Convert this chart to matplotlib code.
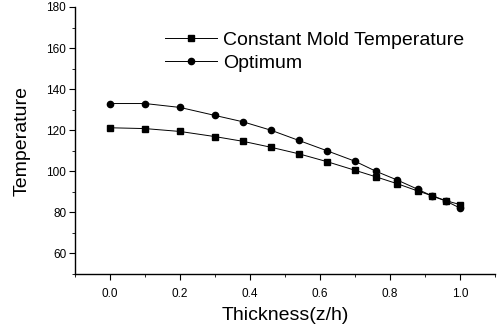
import matplotlib
matplotlib.use("Agg")
import matplotlib.pyplot as plt
from matplotlib.ticker import MultipleLocator

plt.rcParams['font.family'] = ['Liberation Sans', 'DejaVu Sans']

thickness = [0.0, 0.1, 0.2, 0.3, 0.38, 0.46, 0.54, 0.62, 0.70, 0.76, 0.82, 0.88, 0.92, 0.96, 1.0]
constant_mold = [121.2, 120.8, 119.4, 116.9, 114.6, 111.7, 108.5, 104.7, 100.5, 97.3, 94.0, 90.4, 88.1, 85.7, 83.8]
optimum = [133.0, 133.0, 131.1, 127.2, 124.1, 120.0, 115.0, 110.0, 104.9, 100.0, 95.8, 91.2, 88.0, 85.5, 82.1]

fig = plt.figure(figsize=(5.0, 3.29), dpi=100)
ax = fig.add_axes([75/500, 1 - 274/329, 420/500, (274 - 7)/329])

ax.plot(thickness, constant_mold, color='black', lw=0.7, marker='s', markersize=4,
        label='Constant Mold Temperature')
ax.plot(thickness, optimum, color='black', lw=0.7, marker='o', markersize=4.5,
        label='Optimum')

ax.set_xlim(-0.1, 1.1)
ax.set_ylim(50, 180)
ax.xaxis.set_minor_locator(MultipleLocator(0.1))
ax.yaxis.set_minor_locator(MultipleLocator(10))
ax.set_xticks([0.0, 0.2, 0.4, 0.6, 0.8, 1.0])
ax.set_xticklabels(['0.0', '0.2', '0.4', '0.6', '0.8', '1.0'])
ax.set_yticks([60, 80, 100, 120, 140, 160, 180])

for s in ['top', 'right']:
    ax.spines[s].set_visible(False)
for s in ['left', 'bottom']:
    ax.spines[s].set_linewidth(1.0)

ax.tick_params(axis='both', which='major', direction='out', length=4.3, width=0.8, labelsize=8.5, pad=2)
ax.tick_params(axis='both', which='minor', direction='out', length=2, width=0.6)
ax.tick_params(axis='x', pad=6)

ax.set_xlabel('Thickness(z/h)', fontsize=14, labelpad=5)
ax.set_ylabel('Temperature', fontsize=14, labelpad=11)

ax.legend(loc='upper left', bbox_to_anchor=(0.214, 0.91), frameon=False, fontsize=14,
          handlelength=2.7, handletextpad=0.3, labelspacing=0.3, borderpad=0,
          borderaxespad=0)

fig.savefig('out.png', dpi=100)
